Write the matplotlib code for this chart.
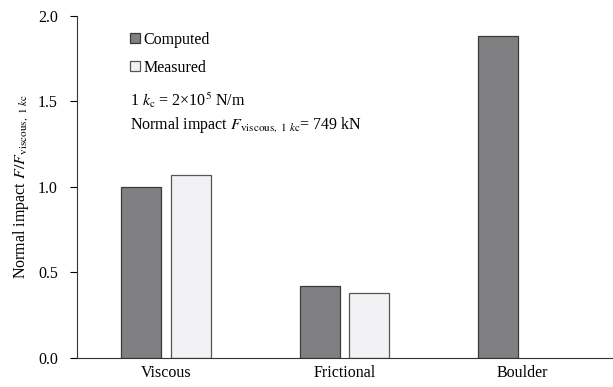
import numpy as np
from matplotlib import pyplot as plt

plt.rcParams['font.family'] = ['Liberation Serif', 'DejaVu Serif']
plt.rcParams['mathtext.fontset'] = 'stix'

# datos
categorias = ['Viscous', 'Frictional', 'Boulder']
computed = [1.00, 0.42, 1.88]
measured = [1.07, 0.38, np.nan]

x = np.arange(len(categorias))
ancho = 0.225
desp = 0.14

fig = plt.figure(figsize=(6.13, 3.87), dpi=100)
ax = fig.add_axes([0.126, 0.075, 0.872, 0.884])

ax.bar(x - desp, computed, ancho, color='#808082', edgecolor='#3a3a3a',
       linewidth=0.9, label='Computed')
ax.bar(x + desp, measured, ancho, color='#f2f2f4', edgecolor='#555555',
       linewidth=0.9, label='Measured')

ax.set_xlim(-0.5, 2.5)
ax.set_ylim(0, 2.0)
ax.set_yticks([0.0, 0.5, 1.0, 1.5, 2.0])
ax.set_yticklabels(['0.0', '0.5', '1.0', '1.5', '2.0'])
ax.set_xticks(x)
ax.set_xticklabels(categorias)
ax.tick_params(axis='x', length=0, labelsize=11.5, pad=5)
ax.tick_params(axis='y', length=5, labelsize=11.5, direction='out', pad=9)

for s in ['top', 'right']:
    ax.spines[s].set_visible(False)
ax.spines['left'].set_color('#333333')
ax.spines['bottom'].set_color('#333333')

ax.set_ylabel(r'Normal impact $F/F_{\mathrm{viscous,\ 1}\ k\mathrm{c}}$', fontsize=11.5, labelpad=5)

ax.legend(loc='upper left', bbox_to_anchor=(0.072, 0.995), frameon=False,
          fontsize=11.5, handlelength=0.6, handleheight=0.6, handletextpad=0.25,
          labelspacing=0.75)

ax.text(0.099, 0.754, r'1 $k_\mathrm{c}$ = 2×10$^5$ N/m', transform=ax.transAxes,
        fontsize=11.5, va='center')
ax.text(0.099, 0.681, r'Normal impact $F_{\mathrm{viscous,\ 1}\ k\mathrm{c}}$= 749 kN',
        transform=ax.transAxes, fontsize=11.5, va='center')

plt.savefig('out.png', dpi=100)
